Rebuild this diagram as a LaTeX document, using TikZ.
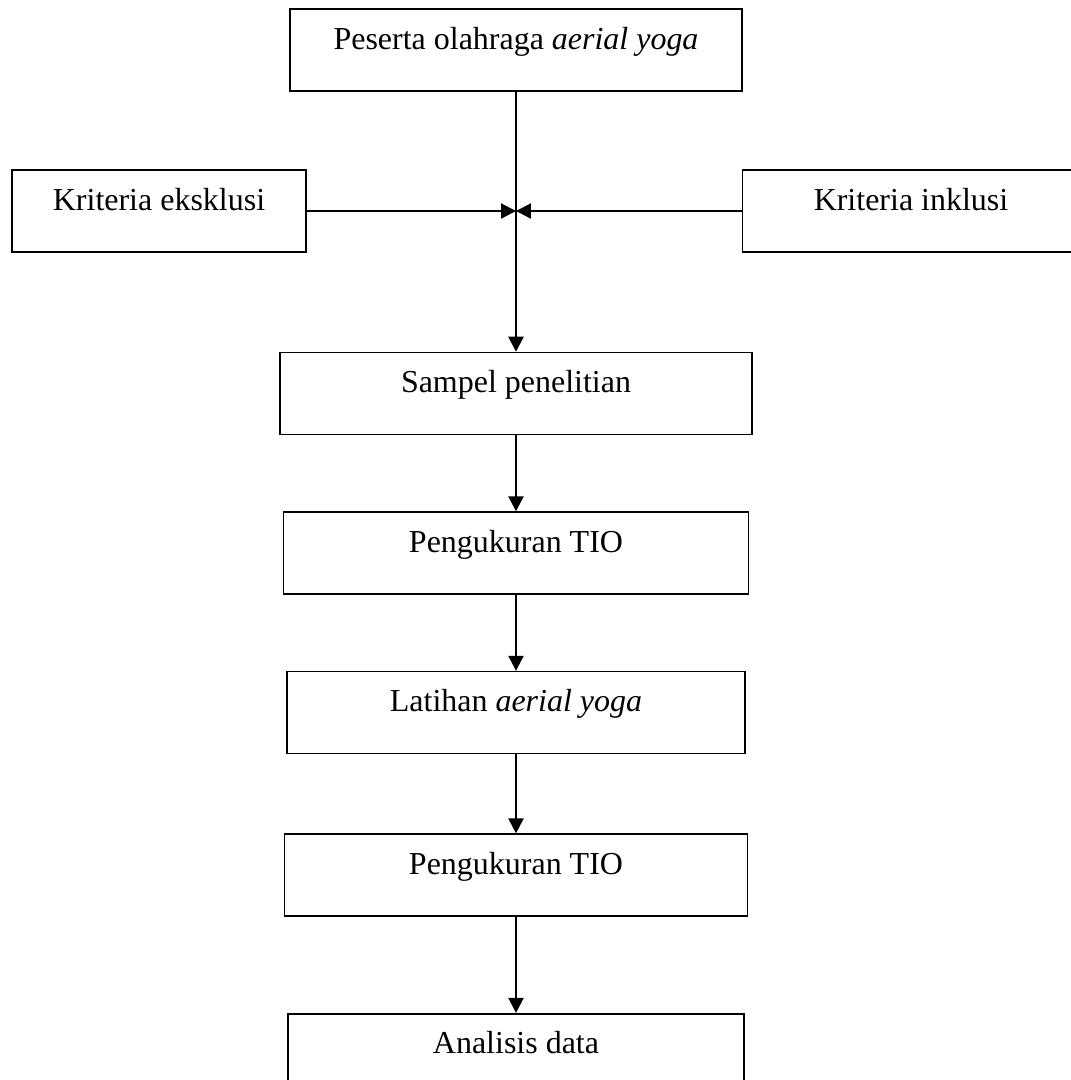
\documentclass[tikz,border=0pt]{standalone}
\usepackage{fontspec}
\setmainfont{Liberation Serif}
\usetikzlibrary{positioning, arrows.meta}

\begin{document}
\begin{tikzpicture} [x = 0.02cm, y = -0.02cm,
			node distance = 1.52cm,
			kotak/.style = {draw = black, line width = 0.9pt,
				inner xsep = 0pt, inner ysep = 0pt,
				text height = 0.8cm, text depth = 0.84cm,
				font = \fontsize{18.2pt}{22pt}\selectfont
			},
			panah/.style = {-{Triangle[length = 0.3cm, width = 0.3cm]},
				line width = 1.25pt
			}
			]
			\useasboundingbox (0,0) rectangle (1071,1080);
			% Kotak
			\node (peserta) [kotak, minimum width = 9.04cm] at (516,50) {Peserta olahraga \textit{aerial yoga}};
			\node (eksklusi) [kotak, minimum width = 5.88cm] at (159,211) {Kriteria eksklusi};
			\node (inklusi) [kotak, minimum width = 6.74cm] at (911,211) {Kriteria inklusi};
			\node (sampel) [kotak, minimum width = 9.44cm, below = 5.2cm of peserta] {Sampel penelitian};
			\node (ukur1) [kotak, minimum width = 9.3cm, below = of sampel] {Pengukuran TIO};
			\node (latihan) [kotak, minimum width = 9.16cm, below = of ukur1] {Latihan \textit{aerial yoga}};
			\node (ukur2) [kotak, minimum width = 9.26cm, below = 1.58cm of latihan] {Pengukuran TIO};
			\node (analisis) [kotak, minimum width = 9.12cm, text depth = 1.8cm, below = 1.92cm of ukur2] {Analisis data};
			\coordinate (temu) at (peserta.south |- eksklusi.east);
			% Panah
			\path [panah]
			(peserta) edge (sampel)
			(eksklusi) edge (temu)
			(inklusi) edge (temu)
			
			(sampel) edge (ukur1)
			(ukur1) edge (latihan)
			(latihan) edge (ukur2)
			(ukur2) edge (analisis);
		\end{tikzpicture}
\end{document}
